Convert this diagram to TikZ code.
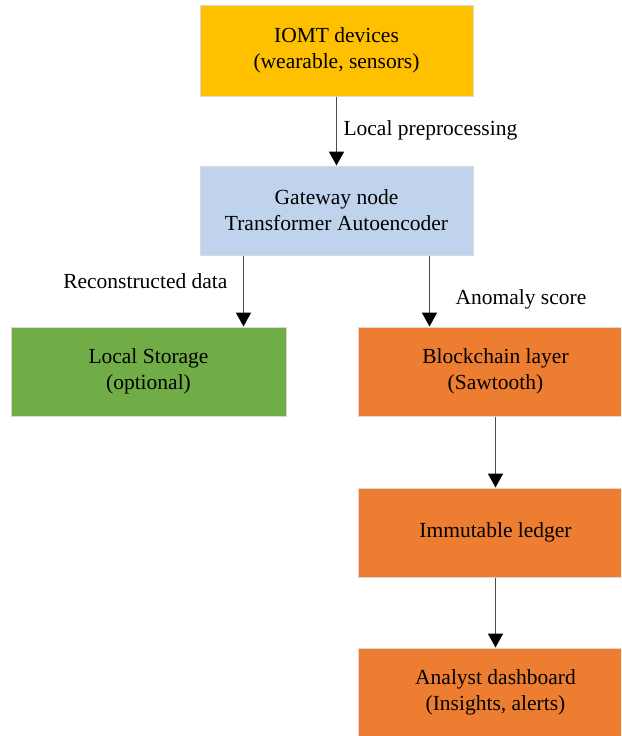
\documentclass[tikz,border=0pt]{standalone}
\usepackage{fontspec}
\setmainfont{Liberation Serif}
\usepackage{xcolor}
\usetikzlibrary{positioning,arrows.meta,calc}

\definecolor{iomtcol}{HTML}{FFC000}
\definecolor{gatecol}{HTML}{BFD3EC}
\definecolor{storecol}{HTML}{70AD47}
\definecolor{chaincol}{HTML}{ED7D31}

\begin{document}
\begin{tikzpicture}[x=1pt, y=-1pt,
    every node/.style={font=\fontsize{21.5}{26}\selectfont, align=center},
    box/.style={draw=gray!30, line width=1pt, minimum height=89pt},
    flow/.style={-{Triangle[length=14pt,width=15pt,black]}, line width=1.7pt, draw=gray!60!black}]
  \def\bw{273pt}
  \def\cw{275pt}

  \clip (0,0) rectangle (621,736);

  % top column
  \node[box, fill=iomtcol, minimum width=\bw, minimum height=91pt] (iomt)
      at (336.5,50.5) {IOMT devices\\(wearable, sensors)};
  \node[box, fill=gatecol, minimum width=\bw] (gw)
      at (336.5,210.5) {Gateway node\\Transformer Autoencoder};

  % second row
  \node[box, fill=storecol, minimum width=\cw] (store)
      at (148.5,371.5) {Local Storage\\(optional)};
  \node[box, fill=chaincol, minimum width=\cw] (chain)
      at (495.5,371.5) {Blockchain layer\\(Sawtooth)};

  % right column
  \node[box, fill=chaincol, minimum width=\cw] (ledger)
      at (495.5,532.5) {Immutable ledger};
  \node[box, fill=chaincol, minimum width=\cw] (dash)
      at (495.5,692.5) {Analyst dashboard\\(Insights, alerts)};

  \draw[flow] (iomt) -- (gw);
  \draw[flow] ([xshift=44pt]gw.south west) -- ([xshift=44pt]gw.south west |- store.north);
  \draw[flow] ([xshift=230pt]gw.south west) -- ([xshift=230pt]gw.south west |- chain.north);
  \draw[flow] (chain) -- (ledger);
  \draw[flow] (ledger) -- (dash);

  % connector labels
  \node[anchor=west] (lblpre) at (340,130) {Local preprocessing};
  \node[anchor=east] (lblrec) at (231,281) {Reconstructed data};
  \node[anchor=west] (lblano) at (452,299) {Anomaly score};
\end{tikzpicture}
\end{document}
